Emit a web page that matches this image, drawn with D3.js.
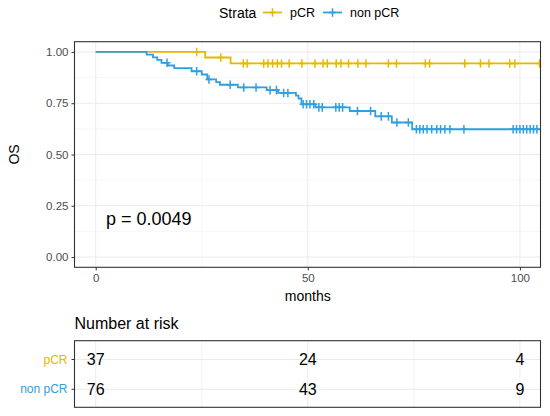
<!DOCTYPE html>
<html>
<head>
<meta charset="utf-8">
<style>
body { margin: 0; background: #fff; }
svg text { font-family: "Liberation Sans", Arial, sans-serif; }
</style>
</head>
<body>
<div id="chart"></div>
<script src="https://d3js.org/d3.v7.min.js"></script>
<script>

// strata
var groups = ["pCR", "non pCR"];
var colors = ["#E7B800", "#2E9FDF"];

// pCR : event times / survival after each event, censor times
var pcrTimes = [0, 25.8, 31.8];
var pcrSurv = [1, 0.973, 0.944];
var pcrEnd = 104.7;
var pcrCensor = [23.8, 29.5, 34.8, 35.7, 39.6, 40.6, 41.7, 42.8, 43.8, 45.6, 48.6,
  51.7, 53.6, 54.6, 56.7, 57.8, 59.6, 61.8, 63.7, 69.0, 70.9, 77.7, 78.7, 87.0,
  90.7, 92.7, 97.6, 98.8, 104.6];

// non pCR
var nonTimes = [0, 12.0, 13.5, 14.5, 15.5, 17.0, 18.5, 22.6, 25.0, 26.3, 28.4, 29.3,
  33.5, 40.3, 43.0, 47.2, 47.8, 48.5, 51.8, 59.9, 65.9, 69.8, 74.6];
var nonSurv = [1, 0.987, 0.974, 0.961, 0.947, 0.934, 0.921, 0.906, 0.890, 0.866, 0.853, 0.840,
  0.827, 0.814, 0.800, 0.787, 0.773, 0.745, 0.730, 0.712, 0.686, 0.656, 0.623];
var nonEnd = 104.7;
var nonCensor = [16.8, 23.8, 26.7, 31.7, 34.9, 37.8, 41.1, 42.6, 44.3, 45.3, 48.9, 49.7,
  50.5, 51.4, 52.6, 53.4, 56.6, 57.4, 58.2, 61.7, 64.8, 67.3, 69.0, 71.0, 73.7,
  75.6, 76.4, 77.2, 78.1, 79.2, 80.4, 81.3, 82.3, 83.5, 86.8,
  98.4, 99.2, 100.0, 100.8, 101.6, 102.4, 103.2, 104.0];

// number at risk
var riskTimes = [0, 50, 100];
var riskPcr = [37, 24, 4];
var riskNon = [76, 43, 9];

var xTicks = [0, 50, 100];
var yTicks = [0, 0.25, 0.5, 0.75, 1];
var pLabel = "p = 0.0049";

var W = 550, H = 416;
var svg = d3.select("#chart").append("svg")
  .attr("width", W).attr("height", H)
  .style("background", "#fff");

var pLeft = 74.5, pRight = 540.5, pTop = 41.7, pBottom = 267.3;

var x = d3.scaleLinear().domain([-5, 104.85]).range([pLeft, pRight]);
var y = d3.scaleLinear().domain([-0.05, 1.05]).range([pBottom, pTop]);

// grid
var g = svg.append("g");
g.selectAll(".vminor").data([25, 75]).enter().append("line")
  .attr("x1", d => x(d)).attr("x2", d => x(d)).attr("y1", pTop).attr("y2", pBottom)
  .attr("stroke", "#F2F2F2").attr("stroke-width", 0.6);
g.selectAll(".hminor").data([0.125, 0.375, 0.625, 0.875]).enter().append("line")
  .attr("x1", pLeft).attr("x2", pRight).attr("y1", d => y(d)).attr("y2", d => y(d))
  .attr("stroke", "#F2F2F2").attr("stroke-width", 0.6);
g.selectAll(".vmajor").data(xTicks).enter().append("line")
  .attr("x1", d => x(d)).attr("x2", d => x(d)).attr("y1", pTop).attr("y2", pBottom)
  .attr("stroke", "#EBEBEB").attr("stroke-width", 1);
g.selectAll(".hmajor").data(yTicks).enter().append("line")
  .attr("x1", pLeft).attr("x2", pRight).attr("y1", d => y(d)).attr("y2", d => y(d))
  .attr("stroke", "#EBEBEB").attr("stroke-width", 1);

// curves
function stepPoints(times, surv, end) {
  var pts = times.map((t, i) => [t, surv[i]]);
  pts.push([end, surv[surv.length - 1]]);
  return pts;
}
function survAt(times, surv, t) {
  var i = d3.bisectRight(times, t) - 1;
  return surv[Math.max(i, 0)];
}

var line = d3.line().x(d => x(d[0])).y(d => y(d[1])).curve(d3.curveStepAfter);

var strata = [
  { times: pcrTimes, surv: pcrSurv, end: pcrEnd, cens: pcrCensor, col: colors[0] },
  { times: nonTimes, surv: nonSurv, end: nonEnd, cens: nonCensor, col: colors[1] }
];

svg.append("clipPath").attr("id", "clip").append("rect")
  .attr("x", pLeft).attr("y", pTop).attr("width", pRight - pLeft).attr("height", pBottom - pTop);
var curves = svg.append("g").attr("clip-path", "url(#clip)");

strata.forEach(function (s) {
  curves.append("path")
    .attr("d", line(stepPoints(s.times, s.surv, s.end)))
    .attr("fill", "none").attr("stroke", s.col).attr("stroke-width", 1.8);
  var plus = curves.append("g");
  s.cens.forEach(function (t) {
    var cx = x(t), cy = y(survAt(s.times, s.surv, t));
    plus.append("path")
      .attr("d", "M" + (cx - 3.5) + "," + cy + "h7M" + cx + "," + (cy - 4.3) + "v8.6")
      .attr("stroke", s.col).attr("stroke-width", 1.5);
  });
});

// panel border
svg.append("rect").attr("x", pLeft).attr("y", pTop)
  .attr("width", pRight - pLeft).attr("height", pBottom - pTop)
  .attr("fill", "none").attr("stroke", "#333").attr("stroke-width", 1.1);

// axes
var xAxis = svg.append("g").attr("transform", "translate(0," + pBottom + ")")
  .call(d3.axisBottom(x).tickValues(xTicks).tickSize(3).tickPadding(4));
var yAxis = svg.append("g").attr("transform", "translate(" + pLeft + ",0)")
  .call(d3.axisLeft(y).tickValues(yTicks).tickFormat(d3.format(".2f")).tickSize(3).tickPadding(3));
[xAxis, yAxis].forEach(function (a) {
  a.select(".domain").remove();
  a.selectAll(".tick line").attr("stroke", "#333");
  a.selectAll(".tick text").attr("fill", "#4D4D4D").style("font-size", "11.5px")
    .style("font-family", "'Liberation Sans', Arial, sans-serif");
});

svg.append("text").attr("x", x(50)).attr("y", 301).attr("text-anchor", "middle")
  .style("font-size", "14px").text("months");
svg.append("text").attr("transform", "translate(19," + ((pTop + pBottom) / 2) + ") rotate(-90)")
  .attr("text-anchor", "middle").style("font-size", "14px").text("OS");

svg.append("text").attr("x", 106).attr("y", 225)
  .style("font-size", "18px").attr("fill", "#000").text(pLabel);

// legend
var lg = svg.append("g");
lg.append("text").attr("x", 219).attr("y", 17.5).style("font-size", "14px").text("Strata");
var legX = [263, 323];
groups.forEach(function (name, i) {
  var lx = legX[i], ly = 12.5;
  lg.append("line").attr("x1", lx).attr("x2", lx + 19).attr("y1", ly).attr("y2", ly)
    .attr("stroke", colors[i]).attr("stroke-width", 1.8);
  lg.append("path").attr("d", "M" + (lx + 6) + "," + ly + "h7M" + (lx + 9.5) + "," + (ly - 4.3) + "v8.6")
    .attr("stroke", colors[i]).attr("stroke-width", 1.5);
  lg.append("text").attr("x", lx + 27).attr("y", 17).style("font-size", "12.5px").text(name);
});

// risk table
var rTop = 340.7, rBottom = 407.3;
var rowY = [359.5, 389.3];
svg.append("text").attr("x", 74.5).attr("y", 329).style("font-size", "16px").text("Number at risk");

var rt = svg.append("g");
rt.selectAll(".rv").data([0, 25, 50, 75, 100]).enter().append("line")
  .attr("x1", d => x(d)).attr("x2", d => x(d)).attr("y1", rTop).attr("y2", rBottom)
  .attr("stroke", d => d % 50 === 0 ? "#EBEBEB" : "#F2F2F2");
rt.selectAll(".rh").data(rowY).enter().append("line")
  .attr("x1", pLeft).attr("x2", pRight).attr("y1", d => d).attr("y2", d => d)
  .attr("stroke", "#EBEBEB");

[riskPcr, riskNon].forEach(function (vals, r) {
  rt.selectAll(".n" + r).data(vals).enter().append("text")
    .attr("x", (d, i) => x(riskTimes[i])).attr("y", rowY[r] + 5.5)
    .attr("text-anchor", "middle").style("font-size", "16px").attr("fill", "#000")
    .text(d => d);
  rt.append("line").attr("x1", pLeft - 3).attr("x2", pLeft).attr("y1", rowY[r]).attr("y2", rowY[r])
    .attr("stroke", "#333");
  rt.append("text").attr("x", pLeft - 7).attr("y", rowY[r] + 4).attr("text-anchor", "end")
    .style("font-size", "12px").attr("fill", colors[r]).text(groups[r]);
});

rt.append("rect").attr("x", pLeft).attr("y", rTop)
  .attr("width", pRight - pLeft).attr("height", rBottom - rTop)
  .attr("fill", "none").attr("stroke", "#333").attr("stroke-width", 1.1);

</script>
</body>
</html>
